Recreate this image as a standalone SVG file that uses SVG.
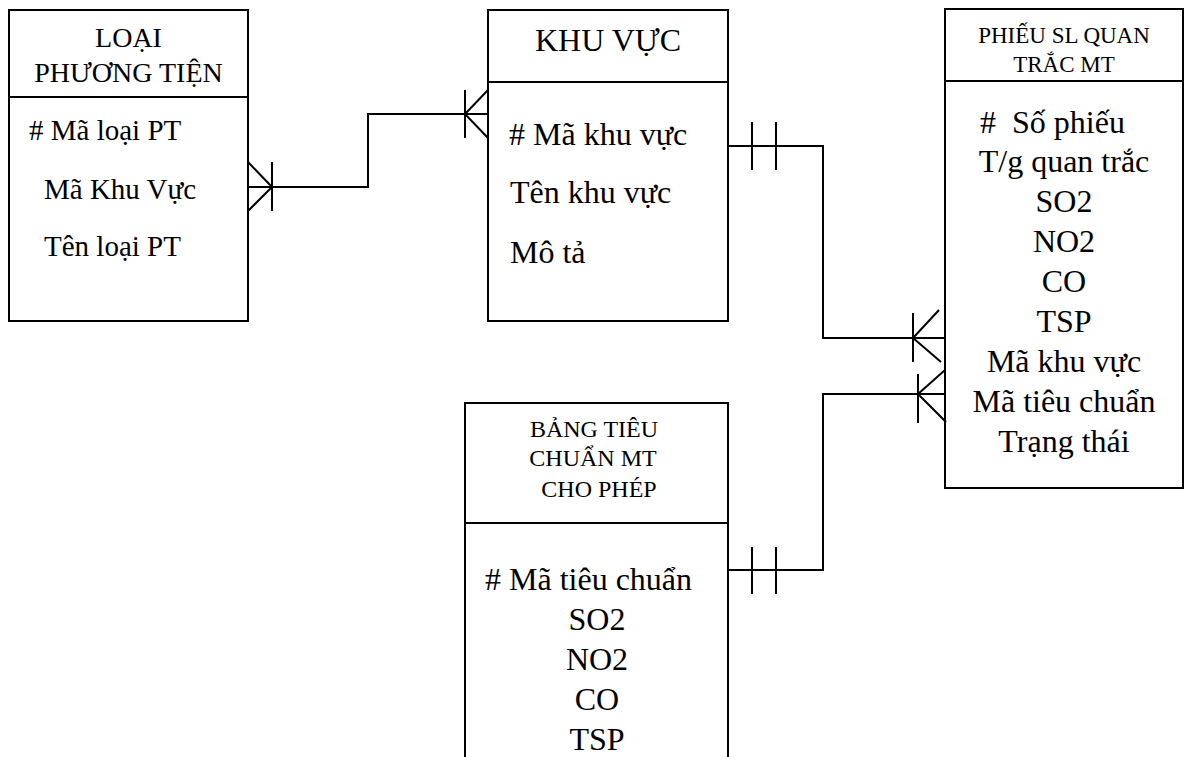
<svg xmlns="http://www.w3.org/2000/svg" width="1185" height="757" viewBox="0 0 1185 757">
<style>
.box{fill:#fff;stroke:#000;stroke-width:2}
.ln{fill:none;stroke:#000;stroke-width:2}
text{font-family:"Liberation Serif","Times New Roman",serif;fill:#000}
.c{text-anchor:middle}
.b32{font-size:32px}
.b29{font-size:29px}
.h28{font-size:28px}
.h24{font-size:24px}
.h23{font-size:23px}
</style>
<rect width="1185" height="757" fill="#fff"/>
<g id="loai-phuong-tien">
<rect class="box" x="9" y="10" width="239" height="311"/>
<line class="ln" x1="9" y1="97" x2="248" y2="97"/>
<text class="h28 c" x="128.5" y="47">LOẠI</text>
<text class="h28 c" x="128.5" y="82">PHƯƠNG TIỆN</text>
<text class="b29" x="29" y="140"># Mã loại PT</text>
<text class="b29" x="44" y="199">Mã Khu Vực</text>
<text class="b29" x="44" y="256">Tên loại PT</text>
</g>
<g id="khu-vuc">
<rect class="box" x="488" y="10" width="240" height="311"/>
<line class="ln" x1="488" y1="82" x2="728" y2="82"/>
<text class="b32 c" x="608" y="51">KHU VỰC</text>
<text class="b32" x="509" y="145"># Mã khu vực</text>
<text class="b32" x="510" y="203">Tên khu vực</text>
<text class="b32" x="510" y="263">Mô tả</text>
</g>
<g id="phieu-sl-quan-trac-mt">
<rect class="box" x="945" y="9" width="238" height="479"/>
<line class="ln" x1="945" y1="81" x2="1183" y2="81"/>
<text class="h23 c" x="1064" y="43">PHIẾU SL QUAN</text>
<text class="h23 c" x="1064" y="72">TRẮC MT</text>
<text class="b32" x="980" y="133" xml:space="preserve">#  Số phiếu</text>
<text class="b32 c" x="1064" y="172">T/g quan trắc</text>
<text class="b32 c" x="1064" y="212">SO2</text>
<text class="b32 c" x="1064" y="252">NO2</text>
<text class="b32 c" x="1064" y="292">CO</text>
<text class="b32 c" x="1064" y="332">TSP</text>
<text class="b32 c" x="1064" y="372">Mã khu vực</text>
<text class="b32 c" x="1064" y="412">Mã tiêu chuẩn</text>
<text class="b32 c" x="1064" y="452">Trạng thái</text>
</g>
<g id="bang-tieu-chuan-mt-cho-phep">
<rect class="box" x="465" y="403" width="263" height="370"/>
<line class="ln" x1="465" y1="523" x2="728" y2="523"/>
<text class="h24 c" x="594" y="437">BẢNG TIÊU</text>
<text class="h24 c" x="593" y="466">CHUẨN MT</text>
<text class="h24 c" x="599" y="497">CHO PHÉP</text>
<text class="b32" x="485" y="590"># Mã tiêu chuẩn</text>
<text class="b32 c" x="597" y="630">SO2</text>
<text class="b32 c" x="597" y="670">NO2</text>
<text class="b32 c" x="597" y="710">CO</text>
<text class="b32 c" x="597" y="750">TSP</text>
</g>
<g id="connectors">
<polyline class="ln" points="248,187 368,187 368,114 488,114"/>
<polyline class="ln" points="248,162 272,187 248,211"/>
<line class="ln" x1="272" y1="162" x2="272" y2="211"/>
<polyline class="ln" points="488,90 465,114 488,138"/>
<line class="ln" x1="465" y1="90" x2="465" y2="138"/>
<polyline class="ln" points="728,146 823,146 823,338 945,338"/>
<line class="ln" x1="752" y1="122" x2="752" y2="170"/>
<line class="ln" x1="776" y1="122" x2="776" y2="170"/>
<polyline class="ln" points="939,310 913,338 941,362"/>
<line class="ln" x1="913" y1="313" x2="913" y2="362"/>
<polyline class="ln" points="728,570 823,570 823,394 945,394"/>
<line class="ln" x1="752" y1="547" x2="752" y2="594"/>
<line class="ln" x1="776" y1="547" x2="776" y2="594"/>
<polyline class="ln" points="945,370 918,394 946,422"/>
<line class="ln" x1="918" y1="374" x2="918" y2="423"/>
</g>
</svg>
